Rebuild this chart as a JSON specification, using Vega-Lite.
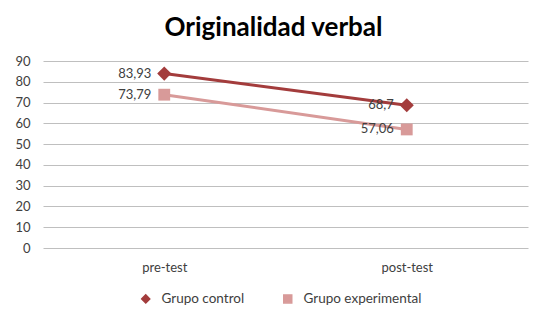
{
  "$schema": "https://vega.github.io/schema/vega-lite/v6.json",
  "autosize": {"type": "none"},
  "width": 485,
  "height": 187,
  "padding": {"left": 43, "top": 61, "right": 18, "bottom": 71},
  "background": "white",
  "title": {
    "text": "Originalidad verbal",
    "font": "Lato",
    "fontSize": 26,
    "fontWeight": "bold",
    "color": "#000000",
    "anchor": "middle",
    "offset": 14,
    "dx": -12
  },
  "config": {
    "font": "Lato",
    "view": {"stroke": null},
    "locale": {
      "number": {"decimal": ",", "thousands": ".", "grouping": [3], "currency": ["", " €"]}
    },
    "legend": {
      "orient": "none",
      "direction": "horizontal",
      "legendX": 86,
      "legendY": 231,
      "title": null,
      "symbolSize": 64,
      "symbolOffset": 10,
      "labelOffset": 9,
      "columnPadding": 26,
      "labelFont": "Lato",
      "labelFontSize": 13.5,
      "labelColor": "#404040"
    }
  },
  "data": {
    "values": [
      {"fase": "pre-test", "grupo": "Grupo control", "valor": 83.93},
      {"fase": "post-test", "grupo": "Grupo control", "valor": 68.7},
      {"fase": "pre-test", "grupo": "Grupo experimental", "valor": 73.79},
      {"fase": "post-test", "grupo": "Grupo experimental", "valor": 57.06}
    ]
  },
  "encoding": {
    "x": {
      "field": "fase",
      "type": "nominal",
      "sort": ["pre-test", "post-test"],
      "scale": {"type": "point", "padding": 0.5},
      "axis": {
        "title": null,
        "labelAngle": 0,
        "domain": false,
        "ticks": false,
        "grid": false,
        "labelFont": "Lato",
        "labelFontSize": 13,
        "labelColor": "#404040",
        "labelPadding": 13
      }
    },
    "y": {
      "field": "valor",
      "type": "quantitative",
      "scale": {"domain": [0, 90], "nice": false, "zero": true},
      "axis": {
        "title": null,
        "values": [0, 10, 20, 30, 40, 50, 60, 70, 80, 90],
        "domain": false,
        "ticks": false,
        "grid": true,
        "gridColor": "#bfbfbf",
        "gridWidth": 1,
        "labelFont": "Lato",
        "labelFontSize": 13,
        "labelColor": "#404040",
        "labelPadding": 13
      }
    }
  },
  "layer": [
    {
      "mark": {"type": "line", "strokeWidth": 3},
      "encoding": {
        "color": {
          "field": "grupo",
          "type": "nominal",
          "scale": {"domain": ["Grupo control", "Grupo experimental"], "range": ["#a33c3c", "#d89a99"]},
          "legend": {}
        }
      }
    },
    {
      "mark": {"type": "point", "filled": true, "opacity": 1},
      "encoding": {
        "color": {
          "field": "grupo",
          "type": "nominal",
          "scale": {"domain": ["Grupo control", "Grupo experimental"], "range": ["#a33c3c", "#d89a99"]},
          "legend": {}
        },
        "shape": {
          "field": "grupo",
          "type": "nominal",
          "scale": {"domain": ["Grupo control", "Grupo experimental"], "range": ["diamond", "square"]}
        },
        "size": {
          "condition": {"test": "datum.grupo === 'Grupo control'", "value": 200},
          "value": 140
        }
      }
    },
    {
      "mark": {"type": "text", "align": "right", "baseline": "middle", "dx": -13, "font": "Lato", "fontSize": 13},
      "encoding": {
        "text": {"field": "valor", "type": "quantitative", "format": ".4~r"},
        "color": {"value": "#404040"}
      }
    }
  ]
}
